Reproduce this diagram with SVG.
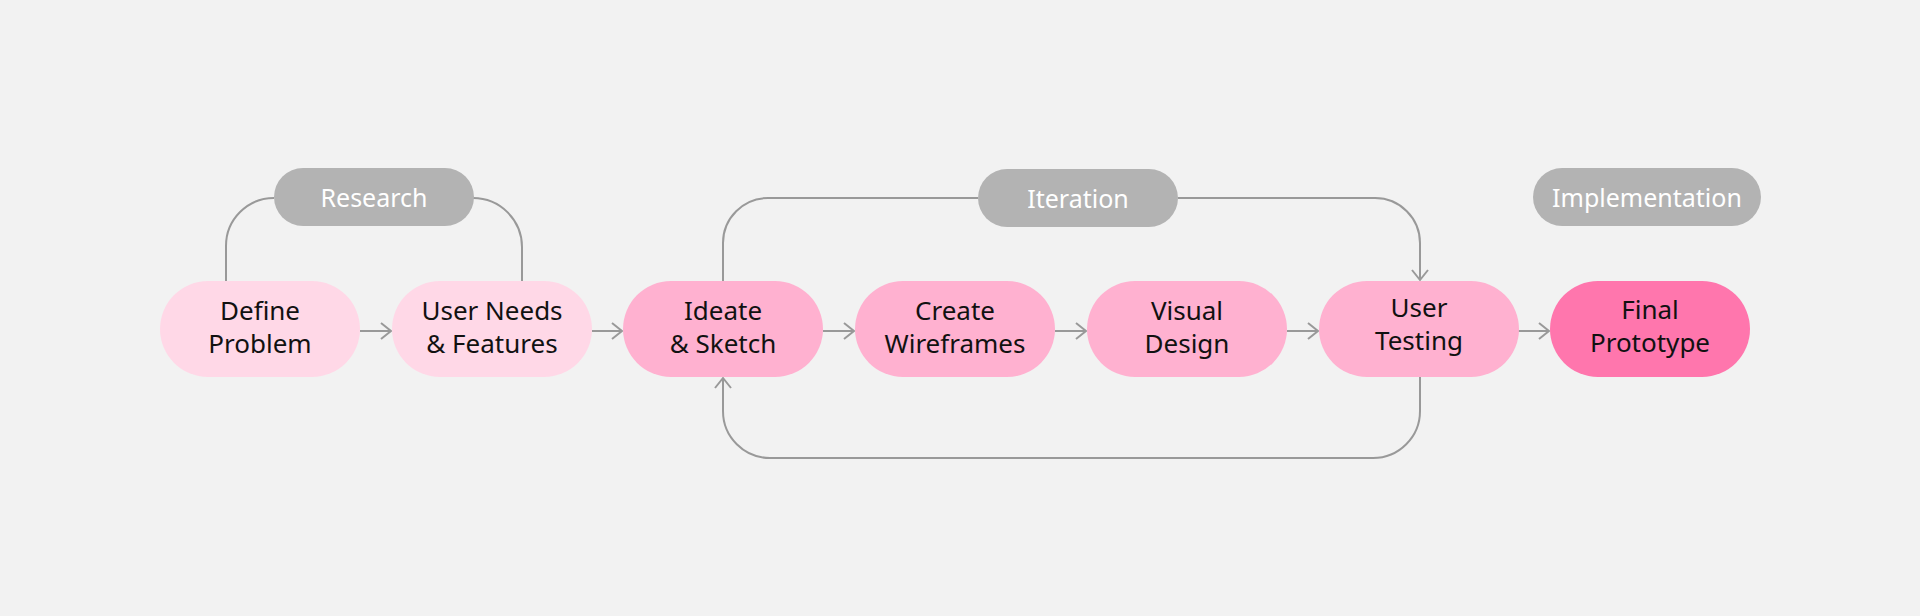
<svg xmlns="http://www.w3.org/2000/svg" width="1920" height="616" viewBox="0 0 1920 616">
<style>
.bg{fill:#f2f2f2}
.p1{fill:#ffd8e7}
.p2{fill:#ffb1d0}
.p3{fill:#ff76ad}
.lab{fill:#b3b3b3}
.t{font-family:"Noto Sans",sans-serif;font-size:26px;fill:#111;text-anchor:middle}
.tl{font-family:"Noto Sans",sans-serif;font-size:25px;fill:#fff;text-anchor:middle}
.c{fill:none;stroke:#999;stroke-width:2}
</style>
<defs>
<marker id="ah" markerUnits="userSpaceOnUse" markerWidth="24" markerHeight="24" viewBox="0 0 24 24" refX="12" refY="12" orient="auto" overflow="visible">
<path d="M2,4 L12,12 L2,20" fill="none" stroke="#999" stroke-width="2"/>
</marker>
</defs>
<rect class="bg" x="0" y="0" width="1920" height="616"/>
<g id="connectors">
<path class="c" d="M226,281 V246 A48,48 0 0 1 274,198"/>
<path class="c" d="M473,198 A49,49 0 0 1 522,247 V281"/>
<path class="c" d="M723,281 V243 A45,45 0 0 1 768,198 H978"/>
<path class="c" d="M1178,198 H1375 A45,45 0 0 1 1420,243 V280" marker-end="url(#ah)"/>
<path class="c" d="M1420,377 V411 A47,47 0 0 1 1373,458 H770 A47,47 0 0 1 723,411 V378" marker-end="url(#ah)"/>
<path class="c" d="M360,331 H391" marker-end="url(#ah)"/>
<path class="c" d="M592,331 H622" marker-end="url(#ah)"/>
<path class="c" d="M823,331 H854" marker-end="url(#ah)"/>
<path class="c" d="M1055,331 H1086" marker-end="url(#ah)"/>
<path class="c" d="M1287,331 H1318" marker-end="url(#ah)"/>
<path class="c" d="M1518,331 H1549" marker-end="url(#ah)"/>
</g>
<g id="research">
<rect class="lab" x="274" y="168" width="200" height="58" rx="29"/>
<text class="tl" x="374" y="207">Research</text>
</g>
<g id="iteration">
<rect class="lab" x="978" y="169" width="200" height="58" rx="29"/>
<text class="tl" x="1078" y="208">Iteration</text>
</g>
<g id="implementation">
<rect class="lab" x="1533" y="168" width="228" height="58" rx="29"/>
<text class="tl" x="1647" y="207">Implementation</text>
</g>
<g id="define-problem">
<rect class="p1" x="160" y="281" width="200" height="96" rx="48"/>
<text class="t" x="260" y="320">Define</text>
<text class="t" x="260" y="353">Problem</text>
</g>
<g id="user-needs">
<rect class="p1" x="392" y="281" width="200" height="96" rx="48"/>
<text class="t" x="492" y="320">User Needs</text>
<text class="t" x="492" y="353">&amp; Features</text>
</g>
<g id="ideate">
<rect class="p2" x="623" y="281" width="200" height="96" rx="48"/>
<text class="t" x="723" y="320">Ideate</text>
<text class="t" x="723" y="353">&amp; Sketch</text>
</g>
<g id="wireframes">
<rect class="p2" x="855" y="281" width="200" height="96" rx="48"/>
<text class="t" x="955" y="320">Create</text>
<text class="t" x="955" y="353">Wireframes</text>
</g>
<g id="visual-design">
<rect class="p2" x="1087" y="281" width="200" height="96" rx="48"/>
<text class="t" x="1187" y="320">Visual</text>
<text class="t" x="1187" y="353">Design</text>
</g>
<g id="user-testing">
<rect class="p2" x="1319" y="281" width="200" height="96" rx="48"/>
<text class="t" x="1419" y="317">User</text>
<text class="t" x="1419" y="350">Testing</text>
</g>
<g id="final-prototype">
<rect class="p3" x="1550" y="281" width="200" height="96" rx="48"/>
<text class="t" x="1650" y="319">Final</text>
<text class="t" x="1650" y="352">Prototype</text>
</g>
</svg>
